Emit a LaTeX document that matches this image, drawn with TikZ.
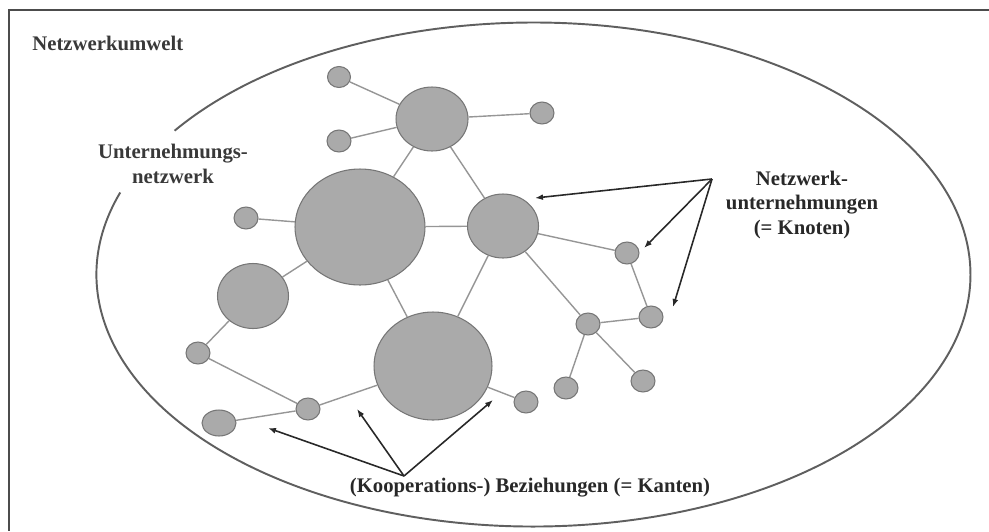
\documentclass[tikz,border=0pt]{standalone}
\usepackage{fontspec}
\setmainfont{Liberation Serif}
\usepackage{tikz}
\usetikzlibrary{shapes.geometric,arrows.meta}
\definecolor{knoten}{RGB}{170,170,170}
\definecolor{rand}{RGB}{118,118,118}
\definecolor{kante}{RGB}{150,150,150}
\definecolor{umwelt}{RGB}{95,95,95}
\definecolor{pfeil}{RGB}{40,40,40}

\begin{document}
\begin{tikzpicture}[x=0.02cm,y=-0.02cm,
firm/.style 2 args={ellipse,draw=rand,fill=knoten,line width=0.6pt,inner sep=0pt,minimum width=#1*0.2mm,minimum height=#2*0.2mm},
edge/.style={draw=kante,line width=0.8pt},
ptr/.style={draw=pfeil,line width=0.9pt,-{Latex[length=1.6mm,width=1.2mm]}},
lbl/.style={font=\fontsize{11.8}{14.2}\selectfont\bfseries,text=pfeil,inner sep=0pt,align=center}]
\useasboundingbox (0,0) rectangle (989,531);
\draw[draw=umwelt!80!black,line width=0.9pt] (989,10) -- (9,10) -- (9,531);
\draw[draw=umwelt,line width=1.1pt] (174.6,130.7) arc[start angle=214.8,end angle=559,x radius=437,y radius=252];
\node[lbl,anchor=west,text=umwelt!60!black] (umw) at (32,43) {Netzwerkumwelt};
\node[lbl,text=umwelt!60!black] (unw) at (173,164) {Unternehmungs-\\netzwerk};
\node[firm={23}{21}] (a) at (339,77) {};
\node[firm={72}{64}] (b) at (432,119) {};
\node[firm={24}{22}] (c) at (339,141) {};
\node[firm={24}{22}] (d) at (542,113) {};
\node[firm={130}{116}] (e) at (360,227) {};
\node[firm={24}{22}] (f) at (246,218) {};
\node[firm={71}{64}] (g) at (503,226) {};
\node[firm={71}{65}] (h) at (253,296) {};
\node[firm={118}{108}] (i) at (433,366) {};
\node[firm={24}{22}] (j) at (627,253) {};
\node[firm={24}{22}] (k) at (651,317) {};
\node[firm={24}{22}] (l) at (588,324) {};
\node[firm={24}{22}] (m) at (198,353) {};
\node[firm={24}{22}] (n) at (308,409) {};
\node[firm={34}{26}] (o) at (219,423) {};
\node[firm={24}{22}] (p) at (526,402) {};
\node[firm={24}{22}] (q) at (566,388) {};
\node[firm={24}{22}] (r) at (643,381) {};
\foreach \u/\v in %
{a/b,c/b,b/d,b/e,b/g,f/e,e/g,e/h,e/i,g/i,g/j,g/l,j/k,l/k,l/q,l/r,h/m,m/n,n/o,n/i,i/p} {
   \draw[edge] (\u) -- (\v);
}
\node[lbl] (nwu) at (802,205) {Netzwerk-\\unternehmungen\\(= Knoten)};
\node[lbl] (bez) at (530,488) {(Kooperations-) Beziehungen (= Kanten)};
\coordinate (nwutop) at (712,179);
\coordinate (beztop) at (404,476);
\coordinate (nwu1) at (535,198);
\coordinate (nwu2) at (644,248);
\coordinate (nwu3) at (673,307);
\coordinate (bez1) at (268,428);
\coordinate (bez2) at (357,409);
\coordinate (bez3) at (493,400);
\foreach \t in {nwu1,nwu2,nwu3} {
   \draw[ptr] (nwutop) -- (\t);
}
\foreach \t in {bez1,bez2,bez3} {
   \draw[ptr] (beztop) -- (\t);
}
\end{tikzpicture}
\end{document}
